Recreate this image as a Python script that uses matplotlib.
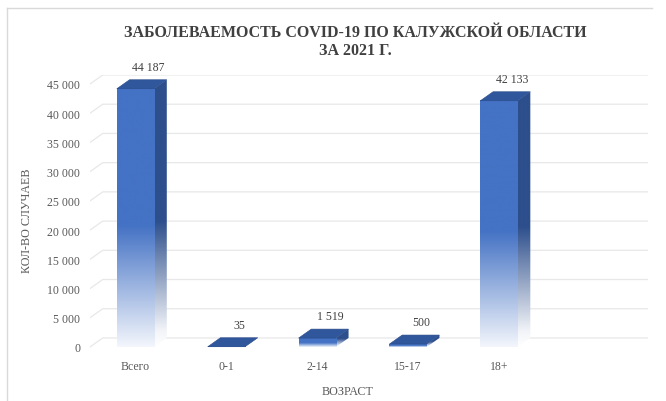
import numpy as np
import matplotlib.pyplot as plt
from matplotlib.colors import LinearSegmentedColormap
from matplotlib.patches import Polygon

categories = ['Всего', '0-1', '2-14', '15-17', '18+']
values = [44187, 35, 1519, 500, 42133]
n_slots = 6
yticks = list(range(0, 45001, 5000))

plt.rcParams['font.family'] = ['Liberation Serif', 'DejaVu Serif']

# fake 3d depth (x in category units, y in value units)
DX = 0.14
DY = 1540
W = 0.41

front_cmap = LinearSegmentedColormap.from_list(
    'front', [(0, '#f3f6fc'), (0.47, '#4472c4'), (1, '#4472c4')])
side_cmap = LinearSegmentedColormap.from_list(
    'side', [(0, '#ffffff'), (0.06, '#f2f4f8'), (0.47, '#2d4f8c'), (1, '#2d4f8c')])
grad = np.linspace(0, 1, 256).reshape(-1, 1)

fig = plt.figure(figsize=(6.66, 4.02), dpi=100)
ax = fig.add_axes([90 / 666, (402 - 350.3) / 402, (648 - 90) / 666, (350.3 - 76) / 402])

# gridlines: side wall diagonal + back wall
x_left = -0.5
x_right = n_slots - 0.5 + DX
for v in yticks:
    ax.plot([x_left, x_left + DX, x_right], [v, v + DY, v + DY],
            color='#e8e8e8', lw=0.9, zorder=1)

for i, v in enumerate(values):
    x0 = i - W / 2
    x1 = i + W / 2
    # side face
    side = Polygon([(x1, 0), (x1 + DX, DY), (x1 + DX, v + DY), (x1, v)],
                   closed=True, facecolor='none', edgecolor='none')
    ax.add_patch(side)
    im = ax.imshow(grad, cmap=side_cmap, origin='lower', aspect='auto',
                   extent=[x1, x1 + DX, 0, v + DY], zorder=2)
    im.set_clip_path(side)
    # front face
    ax.imshow(grad, cmap=front_cmap, origin='lower', aspect='auto',
              extent=[x0, x1, 0, v], zorder=3)
    # top face
    top = Polygon([(x0, v), (x1, v), (x1 + DX, v + DY), (x0 + DX, v + DY)],
                  closed=True, facecolor='#30569c', edgecolor='#2a4c8a', lw=0.4, zorder=4)
    ax.add_patch(top)
    ax.annotate(f'{v:,}'.replace(',', ' '), (i + DX / 2, v + DY),
                xytext=(5, 5), textcoords='offset points', ha='center', va='bottom',
                fontsize=8.5, color='#404040')

ax.set_xlim(x_left, x_right)
ax.set_ylim(-400, 45000 + DY)
ax.set_xticks(range(len(categories)))
ax.set_xticklabels(categories)
ax.set_yticks(yticks)
ax.set_yticklabels([f'{v:,}'.replace(',', ' ') for v in yticks])
ax.tick_params(length=0, labelsize=8.5, labelcolor='#595959')
ax.tick_params(axis='y', pad=7)
ax.tick_params(axis='x', pad=8)
for s in ax.spines.values():
    s.set_visible(False)

ax.set_xlabel('ВОЗРАСТ', fontsize=8.7, color='#595959')
ax.xaxis.set_label_coords((348 - 90) / 558, -0.13)
ax.set_ylabel('КОЛ-ВО СЛУЧАЕВ', fontsize=8.7, color='#595959')
ax.yaxis.set_label_coords(-(90 - 33) / 558, 0.474)

fig.text(355 / 666, 1 - 42 / 402, 'ЗАБОЛЕВАЕМОСТЬ COVID-19 ПО КАЛУЖСКОЙ ОБЛАСТИ\nЗА 2021 Г.',
         ha='center', va='center', fontsize=11.5, fontweight='bold', color='#404040',
         linespacing=1.15)

# chart frame (left and top edges visible)
fig.add_artist(plt.Line2D([7 / 666, 7 / 666], [0, 1 - 9 / 402], color='#d9d9d9', lw=1))
fig.add_artist(plt.Line2D([7 / 666, 652 / 666], [1 - 9 / 402, 1 - 9 / 402], color='#d9d9d9', lw=1))

fig.savefig('out.png', dpi=100)
